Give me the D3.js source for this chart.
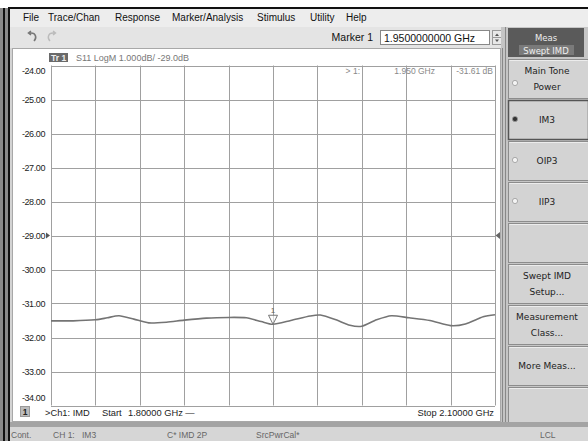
<!DOCTYPE html>
<html>
<head>
<meta charset="utf-8">
<script src="https://cdn.jsdelivr.net/npm/d3@7"></script>
<style>
  body { margin: 0; background: #fff; }
  svg { display: block; font-family: "Liberation Sans", Arial, sans-serif; }
</style>
</head>
<body>
<script>
// trace data (GHz, dB)
var freqs = [1.800, 1.815, 1.830, 1.838, 1.846, 1.856, 1.866, 1.878, 1.890, 1.905,
             1.920, 1.932, 1.942, 1.950, 1.962, 1.975, 1.982, 1.992, 2.002, 2.010,
             2.020, 2.030, 2.042, 2.056, 2.070, 2.080, 2.092, 2.100];
var im3 = [-31.51, -31.51, -31.48, -31.42, -31.36, -31.46, -31.57, -31.55, -31.49, -31.43,
           -31.41, -31.42, -31.53, -31.61, -31.50, -31.37, -31.34, -31.47, -31.64, -31.67,
           -31.48, -31.36, -31.42, -31.50, -31.65, -31.60, -31.39, -31.33];
var yTicks = [-24, -25, -26, -27, -28, -29, -30, -31, -32, -33, -34];
var xTicks = [1.80, 1.83, 1.86, 1.89, 1.92, 1.95, 1.98, 2.01, 2.04, 2.07, 2.10];
var refLevel = -29;
var markerFreq = 1.95;
var markerValue = -31.61;

var menuItems = ["File", "Trace/Chan", "Response", "Marker/Analysis", "Stimulus", "Utility", "Help"];
var buttons = [["Main Tone", "Power"], ["IM3"], ["OIP3"], ["IIP3"], [],
               ["Swept IMD", "Setup..."], ["Measurement", "Class..."], ["More Meas..."], []];
var radioButtons = 4;
var selectedButton = 1;
var statusTexts = ["Cont.", "CH 1:", "IM3", "C* IMD 2P", "SrcPwrCal*", "LCL"];

// plain hyphen minus like the instrument
var loc = d3.formatLocale({decimal: ".", thousands: ",", grouping: [3], currency: ["", ""], minus: "-"});
var f2 = loc.format(".2f"), f3 = loc.format(".3f"), f5 = loc.format(".5f"), f10 = loc.format(".10f");

var W = 588, H = 441;
var svg = d3.select("body").append("svg").attr("width", W).attr("height", H);

// outer frame
svg.append("rect").attr("width", W).attr("height", H).attr("fill", "#fff");
svg.append("rect").attr("x", 0).attr("y", 8).attr("width", 10).attr("height", H - 8).attr("fill", "#8a8a8a");
svg.append("rect").attr("x", 3).attr("y", 8).attr("width", 2).attr("height", H - 8).attr("fill", "#111");
svg.append("rect").attr("x", 8).attr("y", 8).attr("width", 2).attr("height", H - 8).attr("fill", "#111");
svg.append("rect").attr("x", 8).attr("y", 7).attr("width", W - 8).attr("height", 2).attr("fill", "#111");

// window background
svg.append("rect").attr("x", 10).attr("y", 9).attr("width", W - 10).attr("height", H - 9).attr("fill", "#d3d3d3");

// menu bar
svg.append("rect").attr("x", 10).attr("y", 9).attr("width", W - 10).attr("height", 18).attr("fill", "#ededed");
var menuX = [23, 48, 115, 172, 257, 310, 346];
svg.selectAll("text.menu").data(menuItems).enter().append("text")
   .attr("class", "menu")
   .attr("x", function(d, i) { return menuX[i]; })
   .attr("y", 21)
   .attr("font-size", 10)
   .attr("fill", "#111")
   .text(function(d) { return d; });

// toolbar
svg.append("rect").attr("x", 10).attr("y", 27).attr("width", 495).attr("height", 21).attr("fill", "#e4e4e4");
svg.append("path").attr("d", "M34,41 C37,38 36,33 31,33 L29,33 M31,31 L28.5,33 L31,35")
   .attr("fill", "none").attr("stroke", "#777").attr("stroke-width", 1.6);
svg.append("path").attr("d", "M50,41 C47,38 48,33 53,33 L55,33 M53,31 L55.5,33 L53,35")
   .attr("fill", "none").attr("stroke", "#bbb").attr("stroke-width", 1.4);
svg.append("text").attr("x", 373).attr("y", 41).attr("text-anchor", "end")
   .attr("font-size", 10.5).attr("fill", "#111").text("Marker 1");
svg.append("rect").attr("x", 380.5).attr("y", 30.5).attr("width", 109).attr("height", 14)
   .attr("fill", "#fff").attr("stroke", "#888");
svg.append("text").attr("x", 384).attr("y", 41.5)
   .attr("font-size", 10.5).attr("fill", "#111").text(f10(markerFreq) + " GHz");
svg.append("rect").attr("x", 492.5).attr("y", 30.5).attr("width", 9).attr("height", 14)
   .attr("fill", "#e8e8e8").attr("stroke", "#999");
svg.append("line").attr("x1", 492.5).attr("x2", 501.5).attr("y1", 37.5).attr("y2", 37.5).attr("stroke", "#999");
svg.append("path").attr("d", "M495,36 L497,33.5 L499,36 Z M495,39.5 L497,42 L499,39.5 Z").attr("fill", "#555");

// chart panel
svg.append("rect").attr("x", 12).attr("y", 48).attr("width", 489).attr("height", 374).attr("fill", "#a8a8a8");
svg.append("rect").attr("x", 13).attr("y", 49).attr("width", 487).attr("height", 372).attr("fill", "#fff");

var x = d3.scaleLinear().domain([1.8, 2.1]).range([51, 495]);
var y = d3.scaleLinear().domain([-34, -24]).range([405.5, 65.5]);

// grid
var g = svg.append("g");
g.selectAll("line.h").data(yTicks).enter().append("line")
   .attr("x1", x(1.8)).attr("x2", x(2.1))
   .attr("y1", function(d) { return Math.round(y(d)) + 0.5; })
   .attr("y2", function(d) { return Math.round(y(d)) + 0.5; })
   .attr("stroke", "#a0a0a0").attr("stroke-width", 1);
g.selectAll("line.v").data(xTicks).enter().append("line")
   .attr("y1", y(-24)).attr("y2", y(-34))
   .attr("x1", function(d) { return Math.round(x(d)) + 0.5; })
   .attr("x2", function(d) { return Math.round(x(d)) + 0.5; })
   .attr("stroke", "#a0a0a0").attr("stroke-width", 1);

// y tick labels (top and bottom pulled inside)
g.selectAll("text.yl").data(yTicks).enter().append("text")
   .attr("x", 45)
   .attr("y", function(d) {
        var p = y(d);
        if (d === -24) p += 5;
        if (d === -34) p -= 8;
        return p + 3.2;
   })
   .attr("text-anchor", "end")
   .attr("font-size", 9)
   .attr("letter-spacing", -0.4)
   .attr("fill", "#222")
   .text(function(d) { return f2(d); });

// reference level arrows
svg.append("path").attr("d", "M46," + (y(refLevel) - 3) + " L50," + y(refLevel) + " L46," + (y(refLevel) + 3) + " Z").attr("fill", "#555");
svg.append("path").attr("d", "M500," + (y(refLevel) - 3.5) + " L495.5," + y(refLevel) + " L500," + (y(refLevel) + 3.5) + " Z").attr("fill", "#666");

// trace title
svg.append("rect").attr("x", 49).attr("y", 53).attr("width", 19).attr("height", 9).attr("fill", "#6a6a6a");
svg.append("text").attr("x", 51).attr("y", 61).attr("font-size", 8.5).attr("font-weight", "bold")
   .attr("fill", "#eee").text("Tr 1");
svg.append("text").attr("x", 76).attr("y", 61).attr("font-size", 9).attr("fill", "#777")
   .text("S11 LogM 1.000dB/  -29.0dB");

// marker readout
svg.append("text").attr("x", 360).attr("y", 74).attr("text-anchor", "end").attr("font-size", 8.5).attr("fill", "#888").text("> 1:");
svg.append("text").attr("x", 435).attr("y", 74).attr("text-anchor", "end").attr("font-size", 8.5).attr("fill", "#888").text(f3(markerFreq) + " GHz");
svg.append("text").attr("x", 493).attr("y", 74).attr("text-anchor", "end").attr("font-size", 8.5).attr("fill", "#888").text(f2(markerValue) + " dB");

// trace
var line = d3.line()
   .x(function(d, i) { return x(freqs[i]); })
   .y(function(d) { return y(d); })
   .curve(d3.curveCardinal.tension(0.3));
svg.append("path").datum(im3).attr("d", line)
   .attr("fill", "none").attr("stroke", "#747474").attr("stroke-width", 1.6);

// marker
var mx = x(markerFreq), my = y(markerValue);
svg.append("path").attr("d", "M" + (mx - 4.5) + "," + (my - 9) + " L" + (mx + 4.5) + "," + (my - 9) + " L" + mx + "," + my + " Z")
   .attr("fill", "#fff").attr("fill-opacity", 0.6).attr("stroke", "#777").attr("stroke-width", 1);
svg.append("text").attr("x", mx).attr("y", my - 11).attr("text-anchor", "middle")
   .attr("font-size", 8).attr("fill", "#666").text("1");

// bottom channel line
svg.append("rect").attr("x", 20.5).attr("y", 406.5).attr("width", 9).attr("height", 10).attr("fill", "#bcbcbc").attr("stroke", "#999");
svg.append("text").attr("x", 25).attr("y", 415).attr("text-anchor", "middle").attr("font-size", 8.5).attr("font-weight", "bold").attr("fill", "#222").text("1");
var chY = 416;
svg.append("text").attr("x", 45).attr("y", chY).attr("font-size", 9.3).attr("fill", "#222").text(">Ch1: IMD");
svg.append("text").attr("x", 102).attr("y", chY).attr("font-size", 9.3).attr("fill", "#222").text("Start");
svg.append("text").attr("x", 128).attr("y", chY).attr("font-size", 9.3).attr("fill", "#222")
   .text(f5(xTicks[0]) + " GHz  \u2014");
svg.append("text").attr("x", 494).attr("y", chY).attr("text-anchor", "end").attr("font-size", 9.3).attr("fill", "#222")
   .text("Stop  " + f5(xTicks[xTicks.length - 1]) + " GHz");

// separator between chart and softkeys
svg.append("rect").attr("x", 501).attr("y", 27).attr("width", 6).attr("height", 400).attr("fill", "#c4c4c4");
svg.append("line").attr("x1", 502.5).attr("x2", 502.5).attr("y1", 48).attr("y2", 427).attr("stroke", "#888");
svg.append("line").attr("x1", 505.5).attr("x2", 505.5).attr("y1", 27).attr("y2", 427).attr("stroke", "#888");

// right panel
svg.append("rect").attr("x", 507).attr("y", 27).attr("width", 81).attr("height", 400).attr("fill", "#c6c6c6");
svg.append("rect").attr("x", 508).attr("y", 28).attr("width", 76).attr("height", 29).attr("fill", "#5a5a5a");
svg.append("text").attr("x", 546).attr("y", 41).attr("text-anchor", "middle")
   .attr("font-family", "DejaVu Sans").attr("font-size", 8.5).attr("fill", "#eee").text("Meas");
svg.append("rect").attr("x", 519).attr("y", 45).attr("width", 55).attr("height", 10).attr("fill", "#7a7a7a");
svg.append("text").attr("x", 546).attr("y", 53.5).attr("text-anchor", "middle")
   .attr("font-family", "DejaVu Sans").attr("font-size", 8.5).attr("fill", "#eee").text("Swept IMD");

var bh = 41;
var bg = svg.selectAll("g.btn").data(buttons).enter().append("g")
   .attr("class", "btn")
   .attr("transform", function(d, i) { return "translate(508," + (59 + i * bh) + ")"; });
bg.append("rect").attr("x", 0.5).attr("y", 0.5).attr("width", 80).attr("height", bh - 2)
   .attr("fill", "#d3d3d3")
   .attr("stroke", function(d, i) { return i === selectedButton ? "#555" : "#8c8c8c"; })
   .attr("stroke-width", function(d, i) { return i === selectedButton ? 1.5 : 1; });
bg.append("line").attr("x1", 1.5).attr("x2", 79.5).attr("y1", 1.5).attr("y2", 1.5)
   .attr("stroke", function(d, i) { return i === selectedButton ? "none" : "#ececec"; });
bg.each(function(d, i) {
    var b = d3.select(this);
    var n = d.length;
    d.forEach(function(t, k) {
        b.append("text")
         .attr("x", 39)
         .attr("y", (bh - 1) / 2 + 3 + (k - (n - 1) / 2) * 16)
         .attr("text-anchor", "middle")
         .attr("font-family", "DejaVu Sans")
         .attr("font-size", 9)
         .attr("fill", "#222")
         .text(t);
    });
    if (i < radioButtons) {
        var ry = i === 0 ? 24 : 19;
        b.append("circle").attr("cx", 7).attr("cy", ry).attr("r", 2.6)
         .attr("fill", i === selectedButton ? "#333" : "#f4f4f4")
         .attr("stroke", "#999").attr("stroke-width", 0.8);
    }
});

// status bar
svg.append("rect").attr("x", 10).attr("y", 422).attr("width", W - 10).attr("height", 5).attr("fill", "#a4a4a4");
svg.append("rect").attr("x", 10).attr("y", 427).attr("width", W - 10).attr("height", 14).attr("fill", "#d6d6d6");
var statusX = [11, 53, 82, 167, 256, 540];
svg.selectAll("text.st").data(statusTexts).enter().append("text")
   .attr("class", "st")
   .attr("x", function(d, i) { return statusX[i]; })
   .attr("y", 438)
   .attr("font-size", 8.5)
   .attr("fill", "#666")
   .text(function(d) { return d; });
</script>
</body>
</html>
